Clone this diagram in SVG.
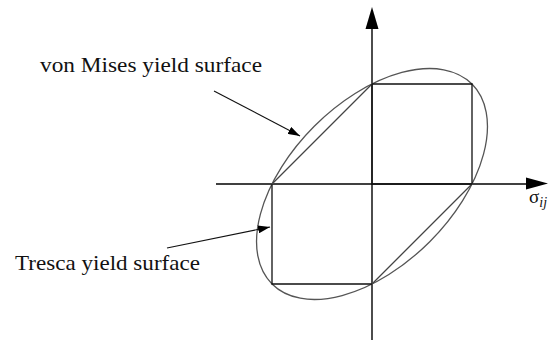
<svg xmlns="http://www.w3.org/2000/svg" width="556" height="343" viewBox="0 0 556 343">
<style>
.axis{stroke:#000;stroke-width:1.4;fill:none}
.tresca{stroke:#111;stroke-width:1.3;fill:none}
.diag{stroke:#444;stroke-width:1.3;fill:none}
.mises{stroke:#555;stroke-width:1.3;fill:none}
.lead{stroke:#111;stroke-width:1.1;fill:none}
.lbl{font-family:"Liberation Serif","Times New Roman",serif;font-size:21px;fill:#111}
</style>
<defs>
<marker id="ah" viewBox="0 0 12 8" refX="12" refY="4" markerWidth="12" markerHeight="8" markerUnits="userSpaceOnUse" orient="auto">
<path d="M0,0 L12,4 L0,8 Z" fill="#000"/>
</marker>
</defs>
<rect width="556" height="343" fill="#fff"/>
<g id="axes">
<line class="axis" x1="372" y1="340" x2="372" y2="26"/>
<path d="M372,7 L378.5,29 L365.5,29 Z" fill="#000"/>
<line class="axis" x1="216" y1="184" x2="528" y2="184"/>
<path d="M548,183.5 L526,177.5 L526,189.5 Z" fill="#000"/>
</g>
<g id="von-mises">
<ellipse class="mises" cx="372" cy="184" rx="141.4" ry="81.65" transform="rotate(-45 372 184)"/>
</g>
<g id="tresca">
<polyline class="tresca" points="372,84 472,84 472,184"/>
<polyline class="tresca" points="372,284 272,284 272,184"/>
<line class="diag" x1="272" y1="184" x2="372" y2="84"/>
<line class="diag" x1="472" y1="184" x2="372" y2="284"/>
<line class="tresca" x1="372" y1="84" x2="372" y2="184"/>
<line class="tresca" x1="372" y1="184" x2="472" y2="184"/>
</g>
<g id="connectors">
<line class="lead" x1="214" y1="91" x2="300" y2="136" marker-end="url(#ah)"/>
<line class="lead" x1="167" y1="248" x2="270" y2="227" marker-end="url(#ah)"/>
</g>
<g id="label-mises">
<text class="lbl" x="40" y="72" textLength="222" lengthAdjust="spacingAndGlyphs">von Mises yield surface</text>
</g>
<g id="label-tresca">
<text class="lbl" x="15" y="270" textLength="185" lengthAdjust="spacingAndGlyphs">Tresca yield surface</text>
</g>
<g id="label-sigma">
<text x="529" y="203" font-family="Liberation Serif, serif" font-size="19" fill="#111">σ<tspan font-style="italic" font-size="14" dy="4">ij</tspan></text>
</g>
</svg>
